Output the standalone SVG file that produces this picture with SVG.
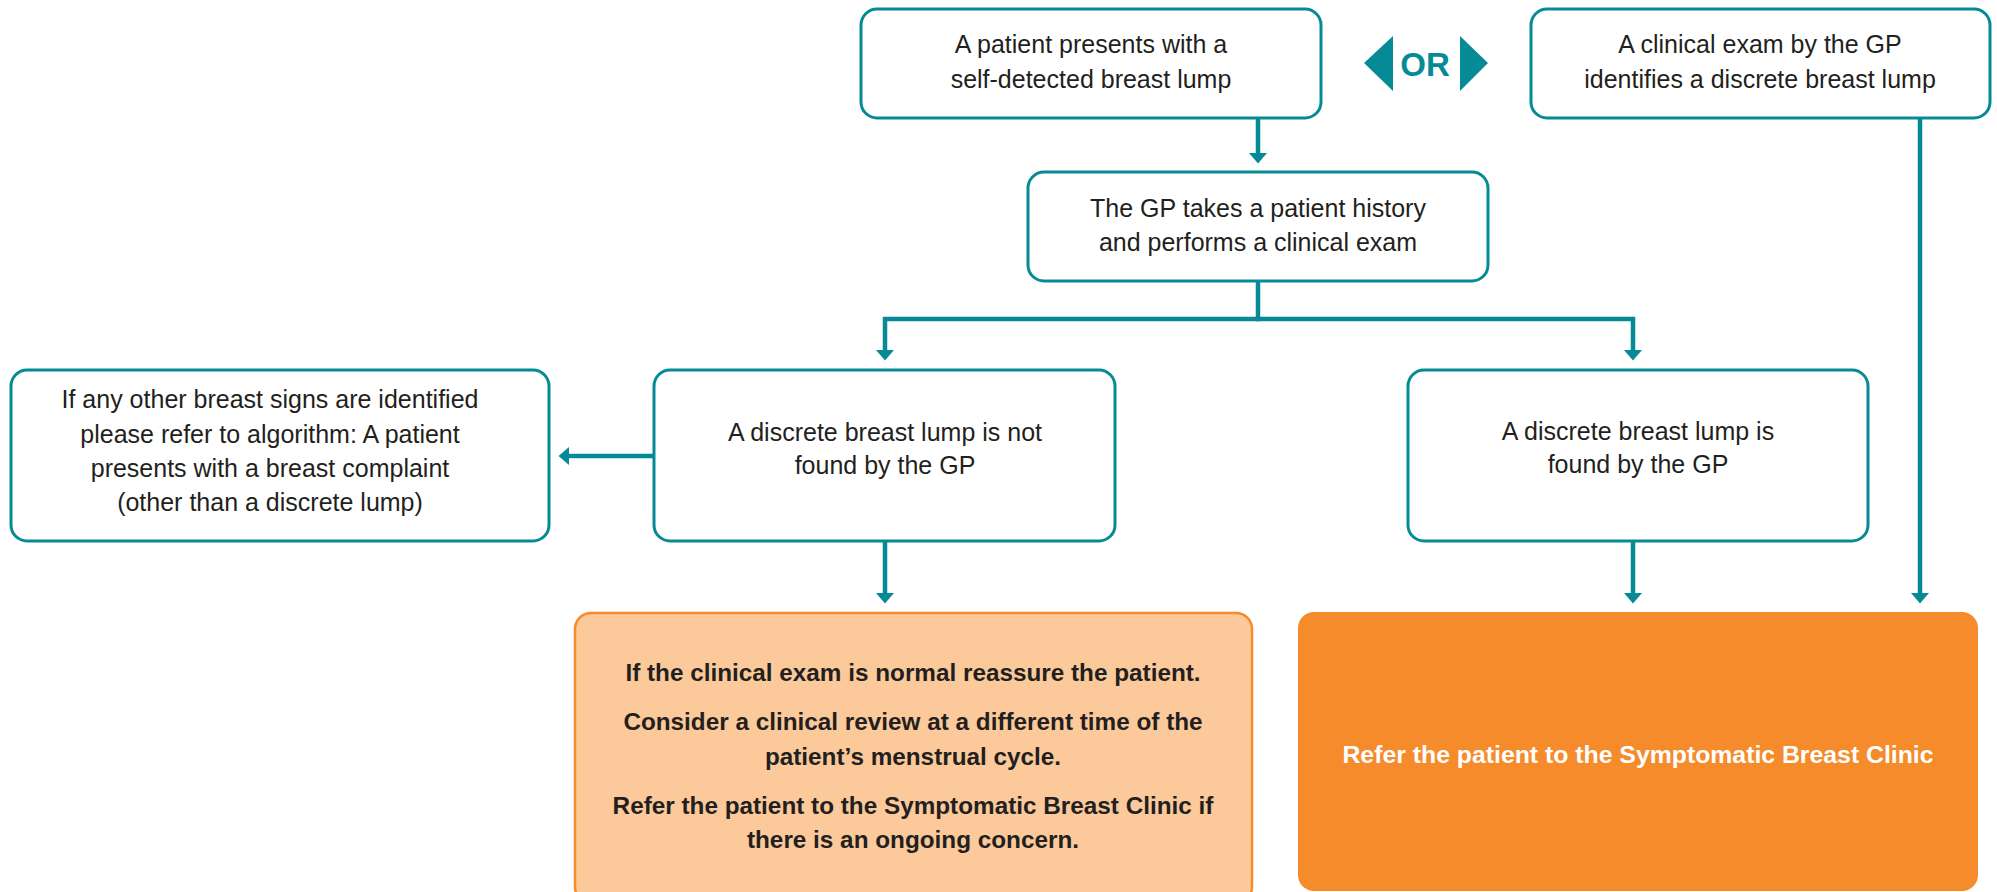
<svg xmlns="http://www.w3.org/2000/svg" width="1997" height="892" viewBox="0 0 1997 892">
<style>
.box{fill:#ffffff;stroke:#068b96;stroke-width:3}
.t{font-family:"Liberation Sans",Arial,sans-serif;font-size:25px;fill:#231f20;text-anchor:middle}
.b{font-family:"Liberation Sans",Arial,sans-serif;font-size:24.3px;font-weight:bold;fill:#231f20;text-anchor:middle}
.w{font-family:"Liberation Sans",Arial,sans-serif;font-size:24.8px;font-weight:bold;fill:#ffffff;text-anchor:middle}
.c{fill:none;stroke:#068b96;stroke-width:4.5;marker-end:url(#ah)}
.cn{fill:none;stroke:#068b96;stroke-width:4.5}
</style>
<defs>
<marker id="ah" markerUnits="userSpaceOnUse" markerWidth="14" markerHeight="22" viewBox="-1 -11 14 22" refX="0" refY="0" orient="auto">
<path d="M-1,-9 L9.5,0 L-1,9 Z" fill="#068b96"/>
</marker>
</defs>
<rect width="1997" height="892" fill="#ffffff"/>

<g id="connectors">
<path class="c" d="M1258,118 V154"/>
<path class="cn" d="M1258,281 V319"/>
<path class="c" d="M1260,319 H885 V351"/>
<path class="c" d="M1256,319 H1633 V351"/>
<path class="c" d="M654,456 H568"/>
<path class="c" d="M885,541 V594"/>
<path class="c" d="M1633,541 V594"/>
<path class="c" d="M1920,118 V594"/>
</g>

<g id="node-self-detected">
<rect class="box" x="861" y="9" width="460" height="109" rx="16"/>
<text class="t" x="1091" y="53">A patient presents with a</text>
<text class="t" x="1091" y="88">self-detected breast lump</text>
</g>

<g id="or-label">
<polygon points="1364,63 1393,36 1393,91" fill="#068b96"/>
<text x="1425" y="76" font-family="Liberation Sans,Arial,sans-serif" font-size="33" font-weight="bold" fill="#068b96" text-anchor="middle">OR</text>
<polygon points="1488,63 1460,36 1460,91" fill="#068b96"/>
</g>

<g id="node-clinical-exam">
<rect class="box" x="1531" y="9" width="459" height="109" rx="16"/>
<text class="t" x="1760" y="53">A clinical exam by the GP</text>
<text class="t" x="1760" y="88">identifies a discrete breast lump</text>
</g>

<g id="node-history">
<rect class="box" x="1028" y="172" width="460" height="109" rx="16"/>
<text class="t" x="1258" y="217">The GP takes a patient history</text>
<text class="t" x="1258" y="251">and performs a clinical exam</text>
</g>

<g id="node-other-signs">
<rect class="box" x="11" y="370" width="538" height="171" rx="16"/>
<text class="t" x="270" y="408">If any other breast signs are identified</text>
<text class="t" x="270" y="443">please refer to algorithm: A patient</text>
<text class="t" x="270" y="477">presents with a breast complaint</text>
<text class="t" x="270" y="511">(other than a discrete lump)</text>
</g>

<g id="node-not-found">
<rect class="box" x="654" y="370" width="461" height="171" rx="16"/>
<text class="t" x="885" y="441">A discrete breast lump is not</text>
<text class="t" x="885" y="474">found by the GP</text>
</g>

<g id="node-found">
<rect class="box" x="1408" y="370" width="460" height="171" rx="16"/>
<text class="t" x="1638" y="440">A discrete breast lump is</text>
<text class="t" x="1638" y="473">found by the GP</text>
</g>

<g id="node-reassure">
<rect x="575" y="613" width="677" height="290" rx="16" fill="#fbc99a" stroke="#f58b2b" stroke-width="2.5"/>
<text class="b" x="913" y="681">If the clinical exam is normal reassure the patient.</text>
<text class="b" x="913" y="730">Consider a clinical review at a different time of the</text>
<text class="b" x="913" y="765">patient’s menstrual cycle.</text>
<text class="b" x="913" y="814">Refer the patient to the Symptomatic Breast Clinic if</text>
<text class="b" x="913" y="848">there is an ongoing concern.</text>
</g>

<g id="node-refer">
<rect x="1298" y="612" width="680" height="279" rx="16" fill="#f58b2b"/>
<text class="w" x="1638" y="763">Refer the patient to the Symptomatic Breast Clinic</text>
</g>
</svg>
